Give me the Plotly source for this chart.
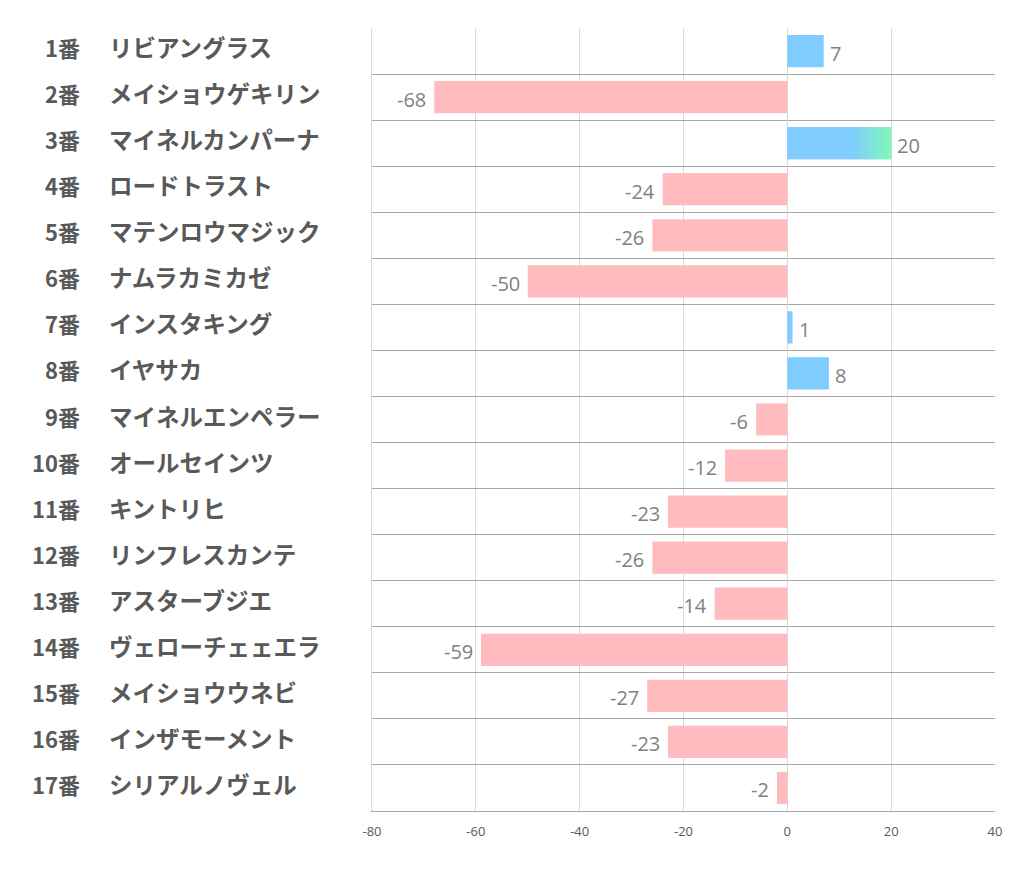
import plotly.graph_objects as go

numbers = ["1番", "2番", "3番", "4番", "5番", "6番", "7番", "8番", "9番", "10番",
           "11番", "12番", "13番", "14番", "15番", "16番", "17番"]
names = ["リビアングラス", "メイショウゲキリン", "マイネルカンパーナ", "ロードトラスト",
         "マテンロウマジック", "ナムラカミカゼ", "インスタキング", "イヤサカ",
         "マイネルエンペラー", "オールセインツ", "キントリヒ", "リンフレスカンテ",
         "アスターブジエ", "ヴェローチェェエラ", "メイショウウネビ",
         "インザモーメント", "シリアルノヴェル"]
values = [7, -68, 20, -24, -26, -50, 1, 8, -6, -12, -23, -26, -14, -59, -27, -23, -2]
x_ticks = [-80, -60, -40, -20, 0, 20, 40]
x_tick_labels = ["-80", "-60", "-40", "-20", "0", "20", "40"]

PINK = "#ffbbbe"
BLUE = "#80ccff"
GREEN = "#80f8b8"
gradient_idx = 2  # 3番 bar drawn with gradient

# page body has an 8px margin; compensate so the plot lands where the reference has it
OFF = 8
W, H = 1022 - 2 * OFF, 887 - 2 * OFF
L, R, T, B = 372 - OFF, 27 - OFF, 28 - OFF, 76 - OFF
BAR_W = 0.7

ypos = list(range(len(values)))
colors = [BLUE if v >= 0 else PINK for v in values]

fig = go.Figure()
fig.add_trace(go.Bar(
    x=values, y=ypos, orientation="h", width=BAR_W,
    marker=dict(color=colors, line=dict(width=0)),
    hoverinfo="skip",
))

# gradient overlay for the 3番 bar
v = values[gradient_idx]
yc = ypos[gradient_idx]
fig.add_trace(go.Scatter(
    x=[0, v, v, 0, 0],
    y=[yc - BAR_W / 2, yc - BAR_W / 2, yc + BAR_W / 2, yc + BAR_W / 2, yc - BAR_W / 2],
    mode="lines", line=dict(width=0), fill="toself",
    fillgradient=dict(type="horizontal",
                      colorscale=[[0, BLUE], [0.62, BLUE], [1, GREEN]]),
    hoverinfo="skip", showlegend=False,
))

annotations = []
num_font = dict(family="Noto Sans CJK JP", size=22, color="#595959")
name_font = dict(family="Noto Sans CJK JP", size=23.5, color="#595959")
for i, (num, nm) in enumerate(zip(numbers, names)):
    annotations.append(dict(
        x=(82 - 372) / 623, xref="paper", y=ypos[i], yref="y", yshift=4,
        text=f"<b>{num}</b>", showarrow=False, xanchor="right", font=num_font))
    annotations.append(dict(
        x=(107 - 372) / 623, xref="paper", y=ypos[i], yref="y", yshift=4,
        text=f"<b>{nm}</b>", showarrow=False, xanchor="left", font=name_font))

# value labels at the bar ends
for i, val in enumerate(values):
    annotations.append(dict(
        x=val, xref="x", y=ypos[i], yref="y", text=str(val), showarrow=False,
        xanchor="left" if val >= 0 else "right", xshift=4 if val >= 0 else -6,
        yshift=-2,
        font=dict(family="Open Sans", size=20, color="#7f7f7f")))

n = len(values)
fig.update_layout(
    width=W, height=H,
    margin=dict(l=L, r=R, t=T, b=B),
    paper_bgcolor="white", plot_bgcolor="white",
    showlegend=False,
    annotations=annotations,
    xaxis=dict(range=[x_ticks[0], x_ticks[-1]], tickvals=x_ticks, ticktext=x_tick_labels,
               showgrid=True, gridcolor="#d9d9d9", gridwidth=1,
               zeroline=True, zerolinecolor="#d9d9d9", zerolinewidth=1,
               showline=True, linecolor="#a6a6a6", linewidth=1, mirror=False,
               ticks="", ticklabelstandoff=8,
               tickfont=dict(family="Open Sans", size=13, color="#595959")),
    yaxis=dict(range=[n - 0.5, -0.5], tickvals=[i - 0.5 for i in range(n + 1)],
               showticklabels=False, showgrid=True, gridcolor="#a6a6a6", gridwidth=1,
               zeroline=False, showline=True, linecolor="#d9d9d9", linewidth=1, ticks=""),
    bargap=0.3,
)

fig.write_html("out.html")
